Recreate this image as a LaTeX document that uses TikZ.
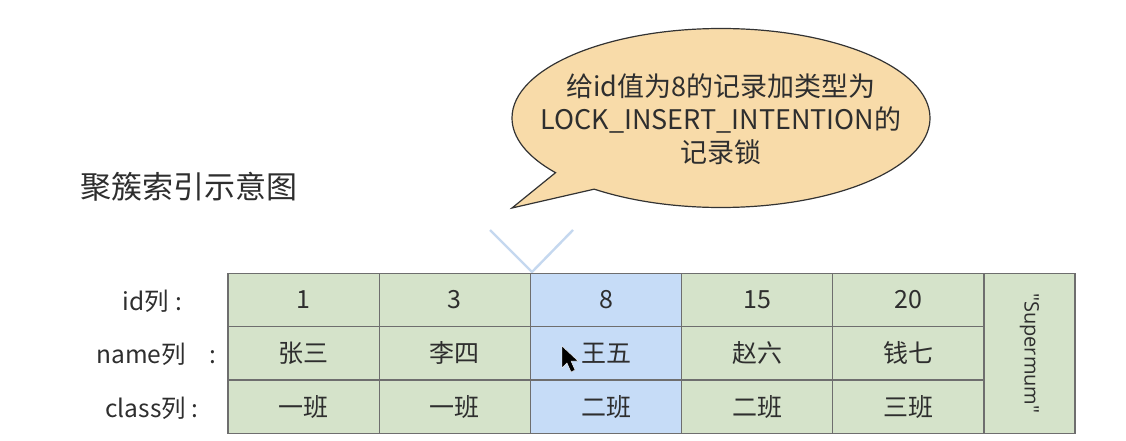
\documentclass[tikz,border=0pt]{standalone}
\usepackage{fontspec}
\setmainfont{Noto Sans CJK SC}
\newfontfamily\latinfont{Open Sans}
\usetikzlibrary{shapes.geometric,shapes.callouts}
\definecolor{cellgreen}{HTML}{D5E3CA}
\definecolor{cellblue}{HTML}{C6DCF7}
\definecolor{gridgray}{HTML}{6E6E6E}
\definecolor{peach}{HTML}{F8DBA9}
\definecolor{vblue}{HTML}{C5D8EF}
\definecolor{txt}{HTML}{2E2E2E}
\begin{document}
\begin{tikzpicture}[x=1pt,y=-1pt,
  cell/.style={draw=gridgray, line width=1.2pt, fill=cellgreen, minimum width=151.2pt, minimum height=53.3pt, inner sep=0pt, font=\fontsize{25}{27}\selectfont, text=txt},
  hl/.style={cell, fill=cellblue},
  lab/.style={font=\fontsize{24.5}{27}\selectfont, text=txt, anchor=east, inner sep=0pt},
  vline/.style={draw=vblue, line width=2.4pt},
  bubble/.style={ellipse callout, draw=black!80, line width=1.2pt, fill=peach, minimum width=418pt, minimum height=179pt, inner sep=0pt},
  bubbletext/.style={font=\fontsize{27}{33}\selectfont, text=txt, align=center, inner sep=0pt},
  cursorshape/.style={fill=black, draw=white, line width=0.4pt}
]
\useasboundingbox (0,0) rectangle (1126,441);
\fill[white] (0,0) rectangle (1126,441);

% title
\node[anchor=west, inner sep=0pt, font=\fontsize{31}{33}\selectfont, text=txt] (title) at (80,187) {聚簇索引示意图};

% callout
\coordinate (tip) at (512,208);
\node[bubble, callout absolute pointer={(tip)}] (callout) at (721,118) {};
\node[bubbletext] (calltext) at (721,119) {给id值为8的记录加类型为\\LOCK\_INSERT\_INTENTION的\\记录锁};

% V marker
\coordinate (vl) at (490,230);
\coordinate (vr) at (573,230);
\coordinate (vb) at (532,272);
\draw[vline] (vl) -- (vb) -- (vr);

% row labels
\node[lab] (lid) at (183,301) {id列\hspace{7pt}:};
\node[lab] (lname) at (217,354) {name列\hspace{24pt}:};
\node[lab] (lclass) at (199,408) {class列\hspace{6pt}:};

% cells
\node[cell] (c11) at (303.6,300) {1};
\node[cell] (c12) at (454.8,300) {3};
\node[hl]   (c13) at (606.0,300) {8};
\node[cell] (c14) at (757.2,300) {15};
\node[cell] (c15) at (908.4,300) {20};

\node[cell] (c21) at (303.6,353.3) {张三};
\node[cell] (c22) at (454.8,353.3) {李四};
\node[hl]   (c23) at (606.0,353.3) {王五};
\node[cell] (c24) at (757.2,353.3) {赵六};
\node[cell] (c25) at (908.4,353.3) {钱七};

\node[cell] (c31) at (303.6,406.6) {一班};
\node[cell] (c32) at (454.8,406.6) {一班};
\node[hl]   (c33) at (606.0,406.6) {二班};
\node[cell] (c34) at (757.2,406.6) {二班};
\node[cell] (c35) at (908.4,406.6) {三班};

\node[cell, rotate=-90, minimum width=160pt, minimum height=91pt, font=\latinfont\fontsize{20}{22}\selectfont] (sup) at (1029.5,353.3) {\symbol{34}Supermum\symbol{34}};

% mouse cursor
\path[cursorshape] (562,346) -- (562,368) -- (567,363) -- (571,372) -- (575,370) -- (571,361) -- (578,361) -- cycle;
\end{tikzpicture}
\end{document}
